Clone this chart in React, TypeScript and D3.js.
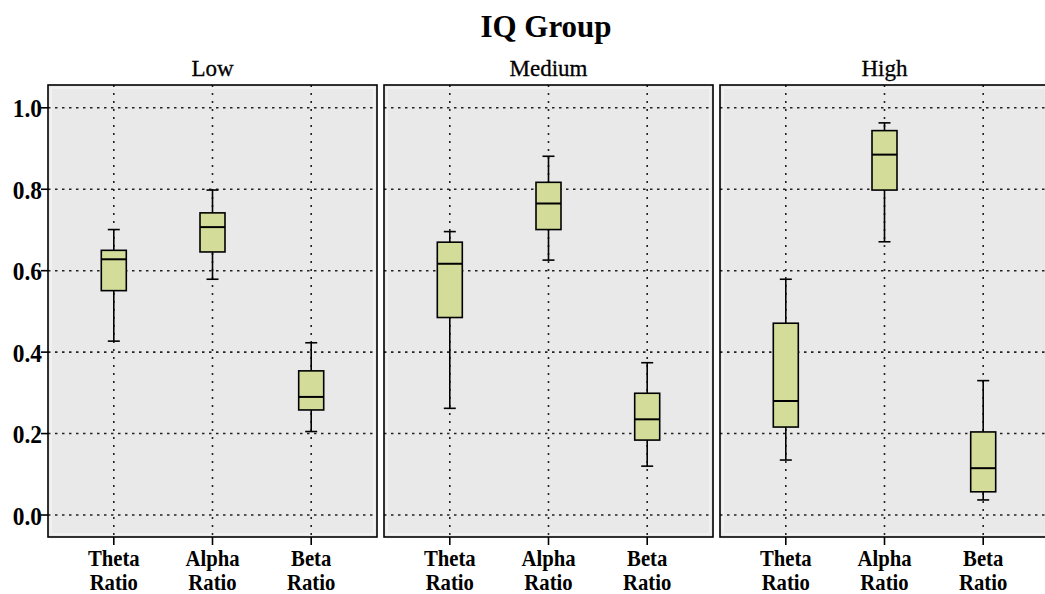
import React from "react";
import * as d3 from "d3";

// IQ groups shown as facets
const groups = ["Low", "Medium", "High"];
// EEG ratio categories on each facet's x axis
const categories = ["Theta Ratio", "Alpha Ratio", "Beta Ratio"];
// y axis ticks
const yTicks = [0.0, 0.2, 0.4, 0.6, 0.8, 1.0];

// Box statistics per group: [whiskerLow, q1, median, q3, whiskerHigh] for Theta, Alpha, Beta
const lowStats = [
  [0.427, 0.551, 0.628, 0.65, 0.701],
  [0.579, 0.646, 0.707, 0.742, 0.798],
  [0.205, 0.258, 0.29, 0.354, 0.423],
];
const mediumStats = [
  [0.262, 0.485, 0.617, 0.67, 0.696],
  [0.626, 0.701, 0.765, 0.817, 0.881],
  [0.12, 0.184, 0.235, 0.299, 0.374],
];
const highStats = [
  [0.135, 0.216, 0.28, 0.471, 0.579],
  [0.671, 0.798, 0.885, 0.944, 0.963],
  [0.037, 0.057, 0.115, 0.204, 0.33],
];
const groupStats = [lowStats, mediumStats, highStats];

const W = 1045;
const H = 594;
const panelLeft = 48;
const panelW = 329;
const panelGap = 7;
const panelTop = 85;
const panelBottom = 537;
const serif = "'Liberation Serif', 'Times New Roman', serif";
const boxFill = "#d4dc9a";
const panelBg = "#e9e9e9";

export default function App() {
  const y = d3.scaleLinear().domain([-0.054, 1.056]).range([panelBottom, panelTop]);
  const x = d3.scalePoint<string>().domain(categories).range([0, panelW]).padding(2 / 3);
  const boxW = 25;
  const capW = 12;

  return (
    <svg
      width={W}
      height={H}
      style={{ position: "absolute", left: 0, top: 0, background: "#fff" }}
    >
      <text
        x={546}
        y={37}
        textAnchor="middle"
        fontFamily={serif}
        fontWeight="bold"
        fontSize={31}
        fill="#000"
      >
        IQ Group
      </text>

      {groups.map((g, gi) => {
        const px = panelLeft + gi * (panelW + panelGap);
        const stats = groupStats[gi];
        return (
          <g key={g} transform={`translate(${px},0)`}>
            <text
              x={panelW / 2}
              y={76}
              textAnchor="middle"
              fontFamily={serif}
              fontSize={23}
              fill="#000"
              stroke="#000"
              strokeWidth={0.3}
            >
              {g}
            </text>
            <rect
              x={0}
              y={panelTop}
              width={panelW}
              height={panelBottom - panelTop}
              fill={panelBg}
            />
            <rect
              x={3}
              y={panelTop + 3}
              width={panelW - 6}
              height={panelBottom - panelTop - 6}
              fill="none"
              stroke="#f3f3f3"
              strokeWidth={1.5}
            />
            {/* horizontal dotted grid */}
            {yTicks.map((t) => (
              <line
                key={`h${t}`}
                x1={0}
                x2={panelW}
                y1={y(t)}
                y2={y(t)}
                stroke="#222"
                strokeWidth={1.6}
                strokeDasharray="2.5 4.5"
              />
            ))}
            {/* vertical dotted grid */}
            {categories.map((c) => (
              <line
                key={`v${c}`}
                x1={x(c)}
                x2={x(c)}
                y1={panelTop}
                y2={panelBottom}
                stroke="#222"
                strokeWidth={1.6}
                strokeDasharray="2 6"
              />
            ))}
            {/* boxes */}
            {categories.map((c, ci) => {
              const [lo, q1, med, q3, hi] = stats[ci];
              const cx = x(c) as number;
              return (
                <g key={`b${c}`}>
                  <line x1={cx} x2={cx} y1={y(hi)} y2={y(q3)} stroke="#000" strokeWidth={1.6} />
                  <line x1={cx} x2={cx} y1={y(q1)} y2={y(lo)} stroke="#000" strokeWidth={1.6} />
                  <line
                    x1={cx - capW / 2}
                    x2={cx + capW / 2}
                    y1={y(hi)}
                    y2={y(hi)}
                    stroke="#000"
                    strokeWidth={1.6}
                  />
                  <line
                    x1={cx - capW / 2}
                    x2={cx + capW / 2}
                    y1={y(lo)}
                    y2={y(lo)}
                    stroke="#000"
                    strokeWidth={1.6}
                  />
                  <rect
                    x={cx - boxW / 2}
                    y={y(q3)}
                    width={boxW}
                    height={y(q1) - y(q3)}
                    fill={boxFill}
                    stroke="#000"
                    strokeWidth={1.6}
                  />
                  <line
                    x1={cx - boxW / 2}
                    x2={cx + boxW / 2}
                    y1={y(med)}
                    y2={y(med)}
                    stroke="#000"
                    strokeWidth={2}
                  />
                </g>
              );
            })}
            <rect
              x={0}
              y={panelTop}
              width={panelW}
              height={panelBottom - panelTop}
              fill="none"
              stroke="#000"
              strokeWidth={1.6}
            />
            {/* x ticks and two-line labels */}
            {categories.map((c) => {
              const cx = x(c) as number;
              const [l1, l2] = c.split(" ");
              return (
                <g key={`xt${c}`}>
                  <line x1={cx} x2={cx} y1={panelBottom} y2={panelBottom + 8} stroke="#000" strokeWidth={1.6} />
                  <g transform={`translate(${cx},566) scale(0.9,1)`}>
                    <text
                      x={0}
                      y={0}
                      textAnchor="middle"
                      fontFamily={serif}
                      fontWeight="bold"
                      fontSize={23}
                      fill="#000"
                    >
                      {l1}
                    </text>
                    <text
                      x={0}
                      y={24}
                      textAnchor="middle"
                      fontFamily={serif}
                      fontWeight="bold"
                      fontSize={23}
                      fill="#000"
                    >
                      {l2}
                    </text>
                  </g>
                </g>
              );
            })}
          </g>
        );
      })}

      {/* y axis ticks and labels on the first facet */}
      {yTicks.map((t) => (
        <g key={`yt${t}`}>
          <line
            x1={panelLeft - 7}
            x2={panelLeft}
            y1={y(t)}
            y2={y(t)}
            stroke="#000"
            strokeWidth={1.6}
          />
          <g transform={`translate(${panelLeft - 6},${y(t) + 9.5}) scale(0.9,1)`}>
            <text
              x={0}
              y={0}
              textAnchor="end"
              fontFamily={serif}
              fontWeight="bold"
              fontSize={26}
              fill="#000"
            >
              {d3.format(".1f")(t)}
            </text>
          </g>
        </g>
      ))}
    </svg>
  );
}
